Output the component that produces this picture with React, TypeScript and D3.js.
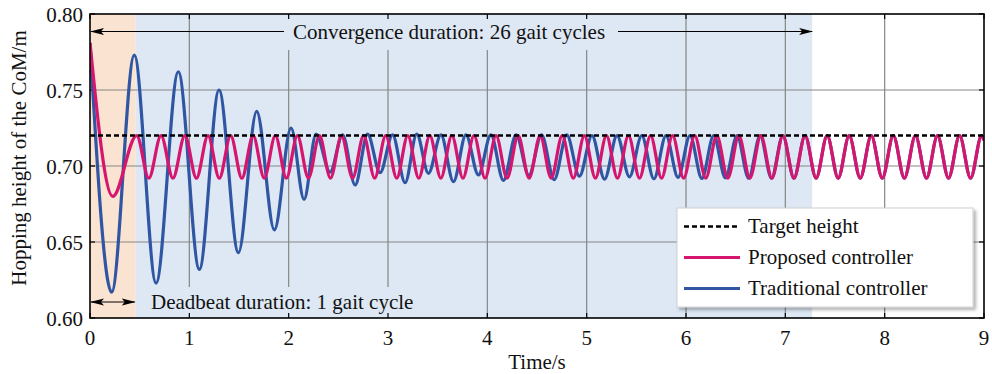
import React from "react";
import * as d3 from "d3";

// ---- data ----
const xTicks = [0, 1, 2, 3, 4, 5, 6, 7, 8, 9];
const yTicks = [0.6, 0.65, 0.7, 0.75, 0.8];
const yTickLabels = ["0.60", "0.65", "0.70", "0.75", "0.80"];
const targetHeight = 0.72;
const deadbeatEnd = 0.46; // s
const convergenceEnd = 7.27; // s

// apexes and troughs of the CoM height, proposed controller
const proposedTime = [
  0, 0.23, 0.47, 0.5925, 0.715, 0.835, 0.955, 1.0715, 1.188, 1.302, 1.416, 1.529,
  1.642, 1.754, 1.866, 1.977, 2.088, 2.199, 2.31, 2.421, 2.532, 2.6435, 2.755,
  2.866, 2.977, 3.088, 3.199, 3.31, 3.421, 3.532, 3.643, 3.7545, 3.866, 3.977,
  4.088, 4.199, 4.31, 4.421, 4.532, 4.643, 4.754, 4.8655, 4.977, 5.088, 5.199,
  5.31, 5.421, 5.532, 5.643, 5.754, 5.865, 5.9765, 6.088, 6.199, 6.31, 6.421,
  6.532, 6.643, 6.754, 6.865, 6.976, 7.0875, 7.199, 7.31, 7.421, 7.532, 7.643,
  7.754, 7.865, 7.976, 8.087, 8.1985, 8.31, 8.421, 8.532, 8.643, 8.754, 8.865,
  8.976, 9.0,
];
const proposedHeight = [
  0.781, 0.68, 0.72, 0.692, 0.72, 0.692, 0.72, 0.692, 0.72, 0.692, 0.72, 0.692,
  0.72, 0.692, 0.72, 0.692, 0.72, 0.692, 0.72, 0.692, 0.72, 0.692, 0.72,
  0.692, 0.72, 0.692, 0.72, 0.692, 0.72, 0.692, 0.72, 0.692, 0.72, 0.692,
  0.72, 0.692, 0.72, 0.692, 0.72, 0.692, 0.72, 0.692, 0.72, 0.692, 0.72,
  0.692, 0.72, 0.692, 0.72, 0.692, 0.72, 0.692, 0.72, 0.692, 0.72, 0.692,
  0.72, 0.692, 0.72, 0.692, 0.72, 0.692, 0.72, 0.692, 0.72, 0.692, 0.72,
  0.692, 0.72, 0.692, 0.72, 0.692, 0.72, 0.692, 0.72, 0.692, 0.72, 0.692,
  0.72, 0.717,
];

// apexes and troughs of the CoM height, traditional controller
const traditionalTime = [
  0, 0.218, 0.446, 0.665, 0.889, 1.101, 1.299, 1.494, 1.678, 1.856, 2.024, 2.155,
  2.276, 2.417, 2.543, 2.669, 2.7945, 2.92, 3.046, 3.172, 3.2895, 3.407, 3.533,
  3.659, 3.7845, 3.91, 4.036, 4.162, 4.29, 4.418, 4.5455, 4.673, 4.8, 4.927,
  5.0535, 5.18, 5.3055, 5.431, 5.554, 5.677, 5.7985, 5.92, 6.04, 6.16, 6.2785,
  6.397, 6.514, 6.631, 6.746, 6.861, 6.974, 7.087, 7.1985, 7.31, 7.421, 7.532,
  7.643, 7.754, 7.865, 7.976, 8.087, 8.1985, 8.31, 8.421, 8.532, 8.643, 8.754,
  8.865, 8.976, 9.0,
];
const traditionalHeight = [
  0.781, 0.617, 0.773, 0.623, 0.762, 0.632, 0.75, 0.643, 0.736, 0.658, 0.725, 0.678,
  0.721, 0.696, 0.7205, 0.6875, 0.721, 0.6956, 0.7205, 0.689, 0.721, 0.6952, 0.7205,
  0.6897, 0.7205, 0.6941, 0.7205, 0.6905, 0.7205, 0.6938, 0.7205, 0.691, 0.7205, 0.6933,
  0.72, 0.6913, 0.72, 0.6929, 0.72, 0.6916, 0.72, 0.6925, 0.72, 0.6918, 0.72,
  0.6922, 0.72, 0.692, 0.72, 0.692, 0.72, 0.692, 0.72, 0.692, 0.72, 0.692,
  0.72, 0.692, 0.72, 0.692, 0.72, 0.692, 0.72, 0.692, 0.72, 0.692, 0.72,
  0.692, 0.72, 0.717,
];

const legendItems = [
  { label: "Target height", color: "#000", dash: "5 3" },
  { label: "Proposed controller", color: "#d6166e", dash: null },
  { label: "Traditional controller", color: "#2f55a3", dash: null },
];

// ---- layout ----
const W = 992;
const H = 374;
const left = 90;
const right = 984;
const top = 14;
const bottom = 318;
const FONT = "'Liberation Serif', 'Times New Roman', serif";
const PEACH = "#fae3d1";
const SKY = "#dde8f4";
const GRID = "#858585";
const CURVE_W = 3.2;

export default function App() {
  const x = d3.scaleLinear().domain([0, 9]).range([left, right]);
  const y = d3.scaleLinear().domain([0.6, 0.8]).range([bottom, top]);

  const line = d3
    .line<[number, number]>()
    .x((d) => x(d[0]))
    .y((d) => y(d[1]))
    .curve(d3.curveMonotoneX);

  const proposed = line(proposedTime.map((t, i) => [t, proposedHeight[i]] as [number, number])) || "";
  const traditional = line(traditionalTime.map((t, i) => [t, traditionalHeight[i]] as [number, number])) || "";

  const arrowY = 31.5;
  const deadY = 302;

  return (
    <svg
      width={W}
      height={H}
      viewBox={`0 0 ${W} ${H}`}
      style={{ position: "absolute", left: 0, top: 0, background: "#fff" }}
      fontFamily={FONT}
    >
      <defs>
        <clipPath id="plot">
          <rect x={left} y={top} width={right - left} height={bottom - top} />
        </clipPath>
        <marker id="headEnd" viewBox="0 -5 14 10" refX="13" refY="0" markerWidth="14" markerHeight="10" markerUnits="userSpaceOnUse" orient="auto">
          <path d="M0,-3.6 L14,0 L0,3.6 L3,0 Z" fill="#000" />
        </marker>
        <marker id="headStart" viewBox="0 -5 14 10" refX="1" refY="0" markerWidth="14" markerHeight="10" markerUnits="userSpaceOnUse" orient="auto">
          <path d="M14,-3.6 L0,0 L14,3.6 L11,0 Z" fill="#000" />
        </marker>
        <filter id="shadow" x="-10%" y="-10%" width="130%" height="140%">
          <feDropShadow dx="2.5" dy="2.5" stdDeviation="1.5" floodColor="#000" floodOpacity="0.3" />
        </filter>
      </defs>

      {/* phase backgrounds */}
      <rect x={x(0)} y={top} width={x(deadbeatEnd) - x(0)} height={bottom - top} fill={PEACH} />
      <rect x={x(deadbeatEnd)} y={top} width={x(convergenceEnd) - x(deadbeatEnd)} height={bottom - top} fill={SKY} />

      {/* grid */}
      {xTicks.slice(1, -1).map((t) => (
        <line key={`gx${t}`} x1={x(t)} x2={x(t)} y1={top} y2={bottom} stroke={GRID} strokeWidth={1.2} />
      ))}
      {yTicks.slice(1, -1).map((v) => (
        <line key={`gy${v}`} x1={left} x2={right} y1={y(v)} y2={y(v)} stroke={GRID} strokeWidth={1.2} />
      ))}

      {/* annotation backgrounds */}
      <rect x={283} y={top + 1} width={336} height={35} fill={SKY} />
      <rect x={145} y={287} width={280} height={bottom - 287 - 1} fill={SKY} />

      {/* inward ticks */}
      {xTicks.map((t) => (
        <g key={`tx${t}`}>
          <line x1={x(t)} x2={x(t)} y1={bottom} y2={bottom - 5} stroke="#000" strokeWidth={1.2} />
          <line x1={x(t)} x2={x(t)} y1={top} y2={top + 5} stroke="#000" strokeWidth={1.2} />
        </g>
      ))}
      {yTicks.map((v) => (
        <g key={`ty${v}`}>
          <line x1={left} x2={left + 5} y1={y(v)} y2={y(v)} stroke="#000" strokeWidth={1.2} />
          <line x1={right} x2={right - 5} y1={y(v)} y2={y(v)} stroke="#000" strokeWidth={1.2} />
        </g>
      ))}

      {/* series */}
      <g clipPath="url(#plot)">
        <path d={traditional} fill="none" stroke="#2f55a3" strokeWidth={CURVE_W} strokeLinejoin="round" />
        <path d={proposed} fill="none" stroke="#d6166e" strokeWidth={CURVE_W} strokeLinejoin="round" />
        <line x1={left} x2={right} y1={y(targetHeight)} y2={y(targetHeight)} stroke="#000" strokeWidth={2.5} strokeDasharray="5 3" />
      </g>

      {/* convergence annotation */}
      <line x1={x(0) + 1} x2={284} y1={arrowY} y2={arrowY} stroke="#000" strokeWidth={1.2} markerStart="url(#headStart)" />
      <line x1={618} x2={x(convergenceEnd)} y1={arrowY} y2={arrowY} stroke="#000" strokeWidth={1.2} markerEnd="url(#headEnd)" />
      <text x={449} y={39} fontSize={21} textAnchor="middle" fill="#111">
        Convergence duration: 26 gait cycles
      </text>

      {/* deadbeat annotation */}
      <line x1={x(0) + 1} x2={x(deadbeatEnd) - 1} y1={deadY} y2={deadY} stroke="#000" strokeWidth={1.2} markerStart="url(#headStart)" markerEnd="url(#headEnd)" />
      <text x={151} y={309} fontSize={21} fill="#111">
        Deadbeat duration: 1 gait cycle
      </text>

      {/* frame */}
      <rect x={left} y={top} width={right - left} height={bottom - top} fill="none" stroke="#000" strokeWidth={1.6} />

      {/* tick labels */}
      {xTicks.map((t) => (
        <text key={`lx${t}`} x={x(t)} y={345} fontSize={21} textAnchor="middle" fill="#111">
          {t}
        </text>
      ))}
      {yTicks.map((v, i) => (
        <text key={`ly${v}`} x={83} y={y(v) + 7.5} fontSize={21} textAnchor="end" fill="#111">
          {yTickLabels[i]}
        </text>
      ))}

      {/* axis titles */}
      <text x={(left + right) / 2} y={369} fontSize={21} textAnchor="middle" fill="#111">
        Time/s
      </text>
      <text transform={`translate(26,158) rotate(-90)`} fontSize={21} textAnchor="middle" fill="#111">
        Hopping height of the CoM/m
      </text>

      {/* legend */}
      <g>
        <rect x={677} y={208} width={296} height={99} fill="#fff" stroke="#cfcfcf" strokeWidth={1} filter="url(#shadow)" />
        {legendItems.map((item, i) => {
          const ly = 226.5 + i * 31;
          return (
            <g key={item.label}>
              <line x1={684} x2={740} y1={ly} y2={ly} stroke={item.color} strokeWidth={item.dash ? 2.5 : CURVE_W} strokeDasharray={item.dash || undefined} />
              <text x={748} y={ly + 6.5} fontSize={21} fill="#111">
                {item.label}
              </text>
            </g>
          );
        })}
      </g>
    </svg>
  );
}
